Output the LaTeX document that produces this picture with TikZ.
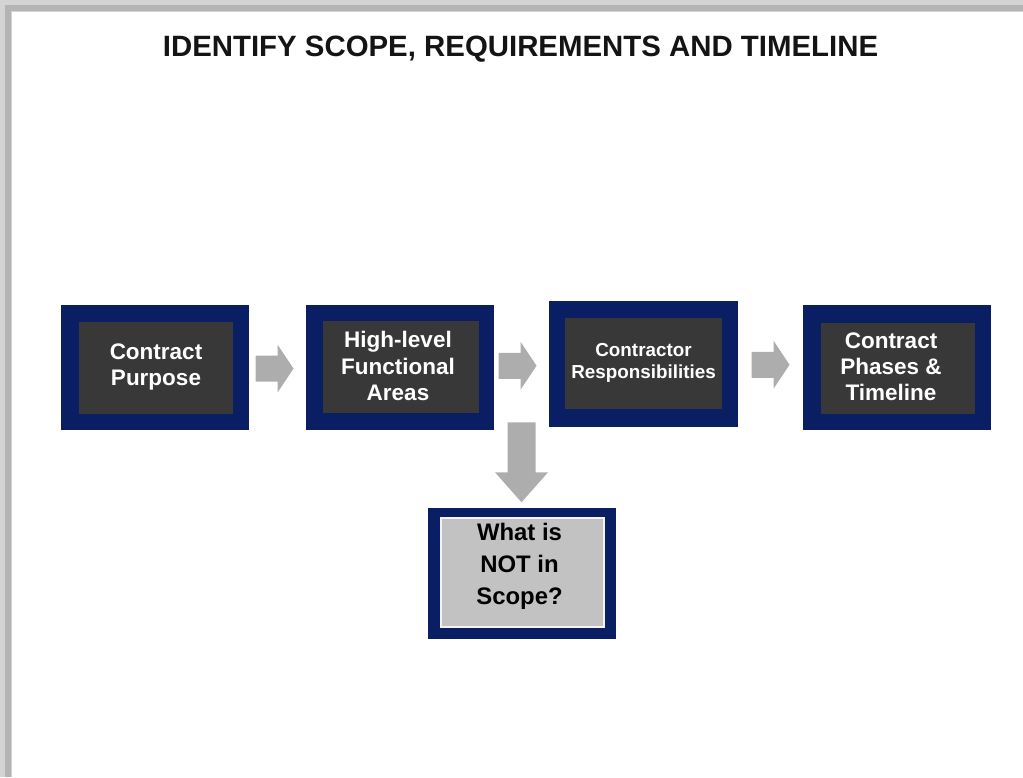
\documentclass[tikz,border=0pt]{standalone}
\usepackage{fontspec}
\setmainfont{Liberation Sans}
\usetikzlibrary{calc,fit}
\definecolor{navy}{HTML}{0A1F63}
\definecolor{innerdark}{HTML}{383838}
\definecolor{innerlight}{HTML}{C2C2C2}
\definecolor{arrowgray}{HTML}{ADADAD}
\definecolor{framelight}{HTML}{D4D4D4}
\definecolor{framedark}{HTML}{B4B4B4}
\tikzset{
  outerbox/.style={fill=navy, draw=none, inner sep=0pt},
  darkbox/.style={fill=innerdark, draw=none, inner sep=0pt},
  lightbox/.style={fill=innerlight, draw=white!80!innerlight, line width=1.2pt, inner sep=0pt},
  whitetext/.style={align=center, text=white, inner sep=0pt,
    font=\fontsize{16}{18.6}\selectfont\bfseries},
  blacktext/.style={align=center, text=black, inner sep=0pt,
    font=\fontsize{17}{22.8}\selectfont\bfseries},
  rarrow/.pic={\fill[arrowgray] (-19,-13) -- (3,-13) -- (3,-24) -- (19,0) -- (3,24) -- (3,13) -- (-19,13) -- cycle;},
  darrow/.pic={\fill[arrowgray] (-14,0) -- (14,0) -- (14,50) -- (26.5,50) -- (0,80) -- (-26.5,50) -- (-14,50) -- cycle;}
}
\begin{document}
\begin{tikzpicture}[x=0.025cm,y=-0.025cm]
\useasboundingbox (0,0) rectangle (1023,777);
% frame shadow
\fill[framelight] (0,0) rectangle (1023,12);
\fill[framelight] (0,0) rectangle (12,777);
\fill[framedark] (5,5) rectangle (1023,11);
\fill[framedark] (5,5) rectangle (11,777);
% title
\node[font=\fontsize{20.9}{24}\selectfont\bfseries, text=black!92] (title) at (520.5,49) {IDENTIFY SCOPE, REQUIREMENTS AND TIMELINE};
% box 1
\node[outerbox, fit={(61,305) (249,430)}] (o1) {};
\node[darkbox, fit={(79,322) (233,414)}] (b1) {};
\node[whitetext] (t1) at ($(b1.center)+(0,-1)$) {Contract\\Purpose};
% box 2
\node[outerbox, fit={(306,305) (494,430)}] (o2) {};
\node[darkbox, fit={(323,321) (479,413)}] (b2) {};
\node[whitetext] (t2) at ($(b2.center)+(-3,-1)$) {High-level\\Functional\\Areas};
% box 3
\node[outerbox, fit={(549,301) (738,427)}] (o3) {};
\node[darkbox, fit={(565,318) (722,409)}] (b3) {};
\node[whitetext, font=\fontsize{13.4}{15.8}\selectfont\bfseries] (t3) at ($(b3.center)+(0,-1)$) {Contractor\\Responsibilities};
% box 4
\node[outerbox, fit={(803,305) (991,430)}] (o4) {};
\node[darkbox, fit={(821,323) (975,414)}] (b4) {};
\node[whitetext] (t4) at ($(b4.center)+(-7,-2)$) {Contract\\Phases \&\\Timeline};
% box 5
\node[outerbox, fit={(428,508) (616,639)}] (o5) {};
\node[lightbox, fit={(441,518) (604,627)}] (b5) {};
\node[blacktext] (t5) at ($(b5.center)+(-3,-6)$) {What is\\NOT in\\Scope?};
% arrows
\coordinate (a12) at ($(o1.east)!0.5!(o2.west)$);
\coordinate (a23) at ($(o2.east)!0.5!(o3.west)$);
\coordinate (a34) at ($(o3.east)!0.5!(o4.west)$);
\pic at ($(a12)+(-3,1)$) {rarrow};
\pic at ($(a23)+(-4,0)$) {rarrow};
\pic at ($(a34)+(0,-1)$) {rarrow};
\coordinate (ad) at ($(o2.south east)!0.5!(o3.south west)$);
\pic at ($(ad)+(0,-6.5)$) {darrow};
\end{tikzpicture}
\end{document}
